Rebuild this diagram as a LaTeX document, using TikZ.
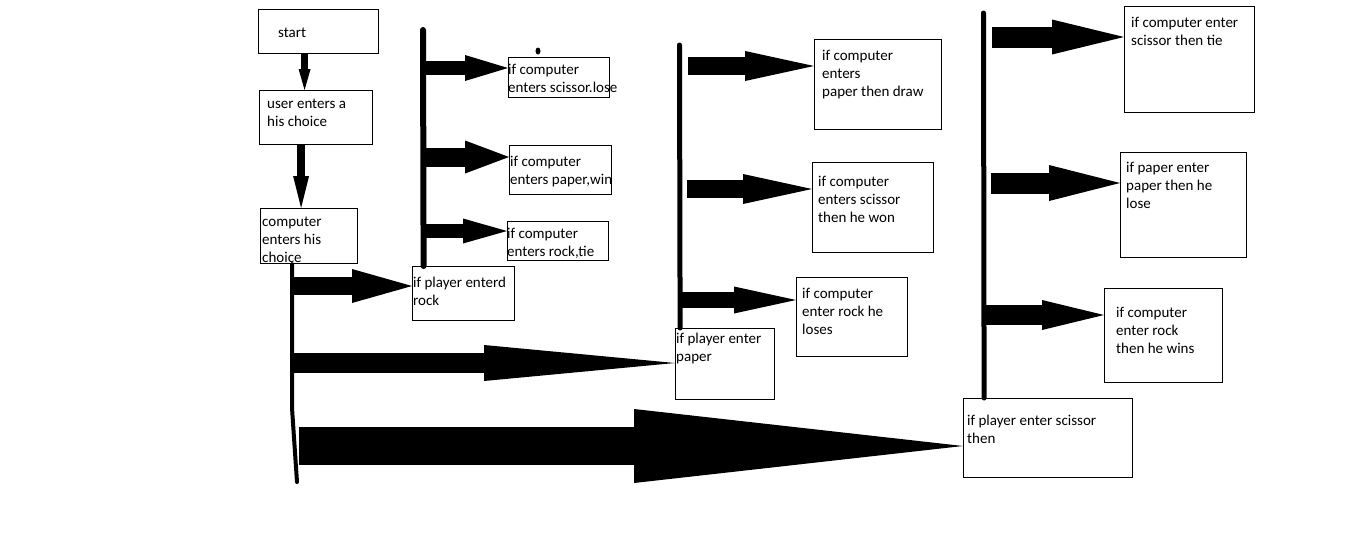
\documentclass[tikz,border=0pt]{standalone}
\usepackage{fontspec}
\setmainfont{Carlito}
\usetikzlibrary{positioning,arrows.meta}

\begin{document}
\begin{tikzpicture}[x=1pt,y=-1pt,
	box/.style={draw, line width=1.2pt, anchor=north west, inner sep=0pt},
	txt/.style={inner sep=0pt, align=left, font=\fontsize{15}{18}\selectfont},
	trunk/.style={line width=#1, line cap=round},
	blk/.style n args={3}{line width=#1, -{Triangle[length=#2 0 0, width=#3 0 0, line width=0pt 0 0]}}]
	\useasboundingbox (0,0) rectangle (1355,554);

	% main column
	\node[box, minimum width=120, minimum height=44] (start) at (258,9) {};
	\node[box, minimum width=113, minimum height=54] (user) at (259,90) {};
	\node[box, minimum width=97, minimum height=55] (comp) at (260,208) {};
	\node[txt, below right=19pt and 20pt of start.north west] (tstart) {start};
	\node[txt, below right=9pt and 8pt of user.north west] (tuser) {user enters a\\his choice};
	\node[txt, below right=9pt and 2pt of comp.north west] (tcomp) {computer\\enters his\\choice};

	% player boxes
	\node[box, minimum width=102, minimum height=54] (rock) at (412,266) {};
	\node[box, minimum width=99, minimum height=71] (paper) at (675,328) {};
	\node[box, minimum width=169, minimum height=79] (scis) at (963,398) {};
	\node[txt, below right=11pt and 1pt of rock.north west] (trock) {if player enterd\\rock};
	\node[txt, below right=5pt and 1pt of paper.north west] (tpaper) {if player enter\\paper};
	\node[txt, below right=17pt and 4pt of scis.north west] (tscis) {if player enter scissor\\then};

	% computer boxes
	\node[box, minimum width=101, minimum height=40] (r1) at (508,57) {};
	\node[box, minimum width=102, minimum height=49] (r2) at (509,145) {};
	\node[box, minimum width=101, minimum height=39] (r3) at (507,221) {};
	\node[box, minimum width=127, minimum height=90] (p1) at (814,39) {};
	\node[box, minimum width=121, minimum height=90] (p2) at (812,162) {};
	\node[box, minimum width=111, minimum height=79] (p3) at (796,277) {};
	\node[box, minimum width=130, minimum height=106] (s1) at (1124,6) {};
	\node[box, minimum width=126, minimum height=105] (s2) at (1120,152) {};
	\node[box, minimum width=118, minimum height=94] (s3) at (1104,288) {};
	\node[txt, below right=7pt and 0pt of r1.north west] (tr1) {if computer\\enters scissor.lose};
	\node[txt, below right=11pt and 1pt of r2.north west] (tr2) {if computer\\enters paper,win};
	\node[txt, below right=7pt and 0pt of r3.north west] (tr3) {if computer\\enters rock,tie};
	\node[txt, below right=11pt and 8pt of p1.north west] (tp1) {if computer\\enters\\paper then draw};
	\node[txt, below right=14pt and 6pt of p2.north west] (tp2) {if computer\\enters scissor\\then he won};
	\node[txt, below right=11pt and 6pt of p3.north west] (tp3) {if computer\\enter rock he\\loses};
	\node[txt, below right=11pt and 7pt of s1.north west] (ts1) {if computer enter\\scissor then tie};
	\node[txt, below right=10pt and 6pt of s2.north west] (ts2) {if paper enter\\paper then he\\lose};
	\node[txt, below right=19pt and 12pt of s3.north west] (ts3) {if computer\\enter rock\\then he wins};

	% trunks
	\coordinate (mbend) at (292,408);
	\coordinate (mend) at (297,482);
	\coordinate (rtop) at (423,30);
	\coordinate (ptop) at (679.5,45);
	\coordinate (sctop) at (983.5,13);
	\draw[trunk=4pt] ([xshift=-17pt]comp.south) -- (mbend) -- (mend);
	\draw[trunk=6pt] ([xshift=-40pt]rock.north) -- (rtop);
	\draw[trunk=5pt] ([xshift=-45pt]paper.north) -- (ptop);
	\draw[trunk=5pt] ([xshift=-64pt]scis.north) -- (sctop);
	\fill (538,51) ellipse [x radius=2.5, y radius=3.5];

	% arrow starts
	\coordinate (cr) at (292,286);
	\coordinate (cp) at (292,363);
	\coordinate (cs) at (299,446);
	\coordinate (r1s) at (425,68);
	\coordinate (r2s) at (426,157);
	\coordinate (r3s) at (426,231);
	\coordinate (p1s) at (688,66);
	\coordinate (p2s) at (687,189);
	\coordinate (p3s) at (680,300);
	\coordinate (s1s) at (992,37);
	\coordinate (s2s) at (991,183);
	\coordinate (s3s) at (984,315);

	\path
	([xshift=-14pt]start.south) edge[blk={7pt}{21pt}{12pt}] ([xshift=-11.5pt]user.north)
	([xshift=-15pt]user.south) edge[blk={8pt}{32pt}{16pt}] ([xshift=-8pt]comp.north)
	(cr) edge[blk={18pt}{60pt}{34pt}] (cr -| rock.west)
	(cp) edge[blk={20pt}{191pt}{36pt}] (cp -| paper.west)
	(cs) edge[blk={38pt}{329pt}{74pt}] (cs -| scis.west)
	(r1s) edge[blk={14pt}{43pt}{26pt}] (r1s -| r1.west)
	(r2s) edge[blk={19pt}{44pt}{33pt}] (r2s -| r2.west)
	(r3s) edge[blk={14pt}{44pt}{25pt}] (r3s -| r3.west)
	(p1s) edge[blk={18pt}{69pt}{30pt}] (p1s -| p1.west)
	(p2s) edge[blk={18pt}{69pt}{30pt}] (p2s -| p2.west)
	(p3s) edge[blk={16pt}{62pt}{27pt}] (p3s -| p3.west)
	(s1s) edge[blk={21pt}{72pt}{35pt}] (s1s -| s1.west)
	(s2s) edge[blk={21pt}{71pt}{36pt}] (s2s -| s2.west)
	(s3s) edge[blk={20pt}{62pt}{30pt}] (s3s -| s3.west);
\end{tikzpicture}
\end{document}
